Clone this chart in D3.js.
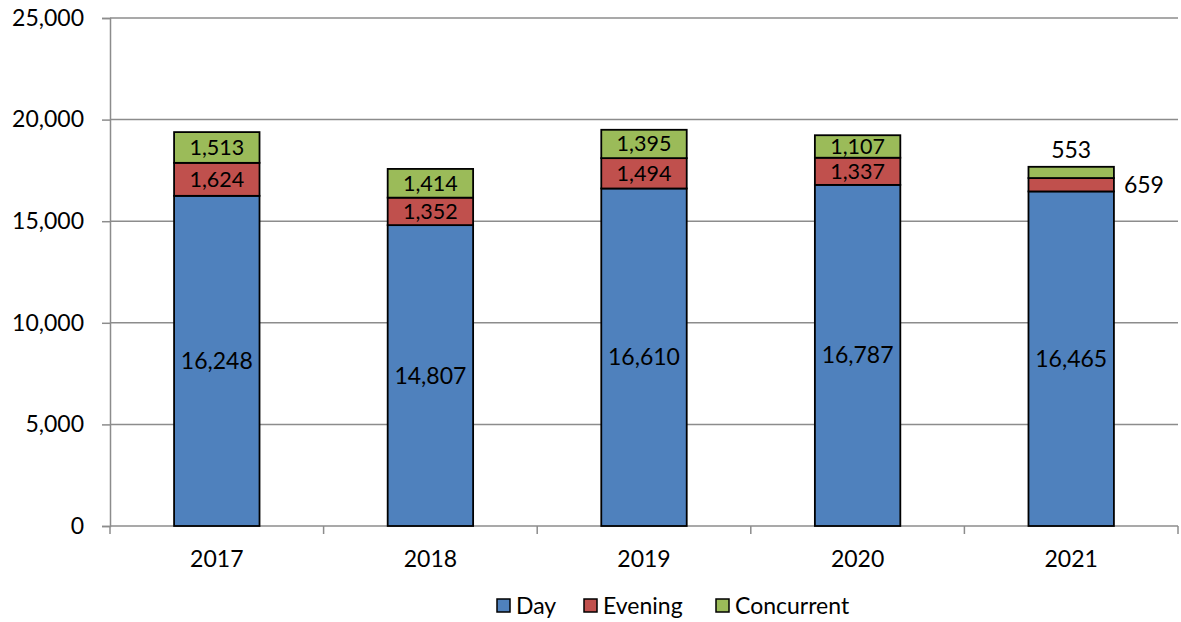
<!DOCTYPE html>
<html><head><meta charset="utf-8">
<script src="https://cdn.jsdelivr.net/npm/d3@7"></script>
<style>body{margin:0;background:#fff}svg{display:block}text{font-family:Lato,"Open Sans",sans-serif;fill:#000}</style>
</head><body><svg id="c" width="1181" height="622"></svg>
<script>
const years = ["2017","2018","2019","2020","2021"];
const day = [16248,14807,16610,16787,16465];
const evening = [1624,1352,1494,1337,659];
const concurrent = [1513,1414,1395,1107,553];
const seriesNames = ["Day","Evening","Concurrent"];
const colors = ["#4F81BD","#C0504D","#9BBB59"];
const yTicks = [0,5000,10000,15000,20000,25000];
const FS = "23px";
const FSL = "21.5px";

const svg = d3.select("#c");
const L=110,R=1178,T=18,B=526;
const x = d3.scaleBand().domain(years).range([L,R]).paddingInner(0.6).paddingOuter(0.3);
const xc = d3.scaleBand().domain(years).range([L,R]);
const y = d3.scaleLinear().domain([0,25000]).range([B,T]);
const fmt = d3.format(",");

svg.append("g").selectAll("line").data(yTicks.slice(1)).join("line")
  .attr("x1",L).attr("x2",R).attr("y1",d=>y(d)).attr("y2",d=>y(d))
  .attr("stroke","#8c8c8c").attr("stroke-width",1.5);

const ya = svg.append("g").attr("transform",`translate(${L},0)`)
  .call(d3.axisLeft(y).tickValues(yTicks).tickFormat(fmt).tickSize(8).tickPadding(18));
ya.select(".domain").attr("stroke","#8c8c8c").attr("stroke-width",1.5);
ya.selectAll(".tick line").attr("stroke","#8c8c8c").attr("stroke-width",1.5);
ya.selectAll("text").style("font-size",FS).attr("fill","#000");

const xa = svg.append("g").attr("transform",`translate(0,${B})`);
xa.append("line").attr("x1",L).attr("x2",R).attr("stroke","#8c8c8c").attr("stroke-width",1.5);
const bounds = years.map(d=>xc(d)).concat([R]);
xa.selectAll("line.t").data(bounds).join("line").attr("class","t")
  .attr("x1",d=>d).attr("x2",d=>d).attr("y1",0).attr("y2",8)
  .attr("stroke","#8c8c8c").attr("stroke-width",1.5);
xa.selectAll("text").data(years).join("text")
  .attr("x",d=>xc(d)+xc.bandwidth()/2).attr("y",41)
  .attr("text-anchor","middle").style("font-size",FS).text(d=>d);

const rows = years.map((yr,i)=>({year:yr,Day:day[i],Evening:evening[i],Concurrent:concurrent[i]}));
const stacked = d3.stack().keys(seriesNames)(rows);

stacked.forEach((s,si)=>{
  svg.append("g").selectAll("rect").data(s).join("rect")
    .attr("x",d=>x(d.data.year)).attr("width",x.bandwidth())
    .attr("y",d=>y(d[1])).attr("height",d=>y(d[0])-y(d[1]))
    .attr("fill",colors[si]).attr("stroke","#000").attr("stroke-width",1.8);
});

stacked.forEach((s,si)=>{
  svg.append("g").selectAll("text").data(s).join("text")
    .each(function(d){
      const t=d3.select(this);
      const v=d[1]-d[0];
      const cx=x(d.data.year)+x.bandwidth()/2;
      let px=cx, py=(y(d[0])+y(d[1]))/2, anchor="middle", fs=(si===0?FS:FSL);
      if(d.data.year==="2021" && si===1){px=x(d.data.year)+x.bandwidth()+10; anchor="start"; fs=FS;}
      if(d.data.year==="2021" && si===2){py=y(d[1])-17; fs=FS;}
      t.attr("x",px).attr("y",py).attr("dy","0.35em").attr("text-anchor",anchor)
       .style("font-size",fs).text(fmt(v));
    });
});

const lg = svg.append("g");
const items=[{n:"Day",x:497},{n:"Evening",x:584},{n:"Concurrent",x:716}];
items.forEach((it,i)=>{
  lg.append("rect").attr("x",it.x).attr("y",599).attr("width",13).attr("height",13)
    .attr("fill",colors[i]).attr("stroke","#000").attr("stroke-width",1.5);
  lg.append("text").attr("x",it.x+19).attr("y",606).attr("dy","0.35em")
    .style("font-size",FS).text(it.n);
});
</script></body></html>
